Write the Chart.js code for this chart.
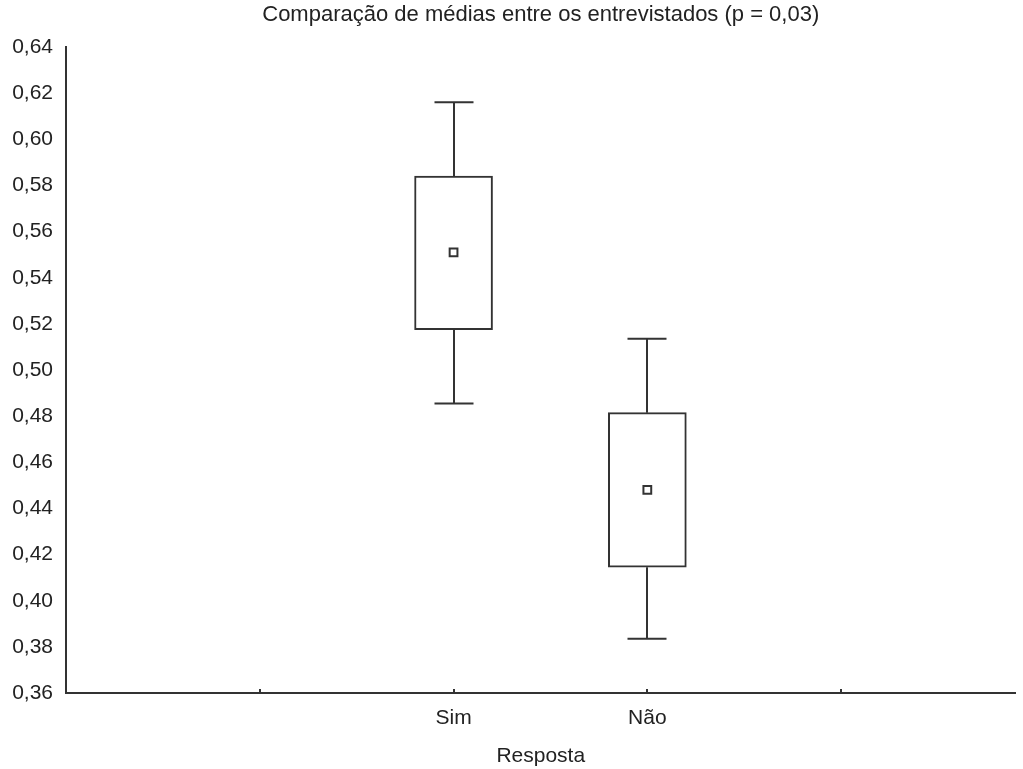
<!DOCTYPE html>
<html>
<head>
<meta charset="utf-8">
<script src="https://cdn.jsdelivr.net/npm/chart.js@4"></script>
<style>
  body { margin: 0; background: #fff; }
  #wrap { width: 1023px; height: 769px; }
</style>
</head>
<body>
<div id="wrap"><canvas id="c"></canvas></div>
<script>
const categories = ["Sim", "Não"];
const catPos = [2, 3];
const means = [0.551, 0.448];
const boxLow = [0.5175, 0.4145];
const boxHigh = [0.584, 0.4815];
const whiskerLow = [0.4855, 0.3835];
const whiskerHigh = [0.616, 0.5135];
const xTicks = [1, 2, 3, 4];
const yTicks = [0.36, 0.38, 0.40, 0.42, 0.44, 0.46, 0.48, 0.50, 0.52, 0.54, 0.56, 0.58, 0.60, 0.62, 0.64];

const ink = "#333";
const font = "'Liberation Sans', Arial, sans-serif";

// whiskers + inner x ticks
const extras = {
  id: "extras",
  afterDatasetsDraw(chart) {
    const { ctx, scales: { x, y } } = chart;
    ctx.save();
    ctx.strokeStyle = ink;
    ctx.lineWidth = 2;
    categories.forEach((c, i) => {
      const px = Math.round(x.getPixelForValue(catPos[i]));
      const cap = 19.5;
      [[boxHigh[i], whiskerHigh[i]], [boxLow[i], whiskerLow[i]]].forEach(([a, b]) => {
        const ya = y.getPixelForValue(a), yb = y.getPixelForValue(b);
        ctx.beginPath();
        ctx.moveTo(px, ya); ctx.lineTo(px, yb);
        ctx.moveTo(px - cap, yb); ctx.lineTo(px + cap, yb);
        ctx.stroke();
      });
    });
    const bottom = chart.chartArea.bottom;
    xTicks.forEach((t) => {
      const px = Math.round(x.getPixelForValue(t));
      ctx.beginPath();
      ctx.moveTo(px, bottom - 4); ctx.lineTo(px, bottom);
      ctx.stroke();
    });
    ctx.restore();
  },
};

new Chart(document.getElementById("c"), {
  data: {
    datasets: [
      {
        type: "scatter", order: 0,
        data: categories.map((c, i) => ({ x: catPos[i], y: means[i] })),
        pointStyle: "rect", radius: 5.5, borderWidth: 2,
        borderColor: ink, backgroundColor: "#fff",
      },
      {
        type: "bar", order: 1,
        data: categories.map((c, i) => ({ x: catPos[i], y: [boxLow[i], boxHigh[i]] })),
        backgroundColor: "#fff", borderColor: ink, borderWidth: 2,
        borderSkipped: false, barThickness: 78,
      },
    ],
  },
  options: {
    responsive: true, maintainAspectRatio: false, animation: false,
    layout: { padding: 0 },
    scales: {
      x: {
        type: "linear", min: 0, max: 4.9, offset: false,
        afterBuildTicks: (s) => { s.ticks = xTicks.map((v) => ({ value: v })); },
        afterFit: (s) => { s.height = 76; },
        grid: { display: false, drawTicks: false, tickLength: 0 },
        border: { display: true, color: ink, width: 2 },
        ticks: {
          color: "#222", font: { family: font, size: 21 }, padding: 13,
          callback: (v) => { const i = catPos.indexOf(v); return i >= 0 ? categories[i] : ""; },
        },
        title: { display: true, text: "Resposta", color: "#222", font: { family: font, size: 21 }, padding: { top: 6, bottom: 0 } },
      },
      y: {
        min: 0.36, max: 0.64,
        afterBuildTicks: (s) => { s.ticks = yTicks.map((v) => ({ value: v })); },
        afterFit: (s) => { s.width = 66; },
        grid: { display: false, drawTicks: false, tickLength: 0 },
        border: { display: true, color: ink, width: 2 },
        ticks: {
          color: "#222", font: { family: font, size: 21 }, padding: 13,
          callback: (v) => v.toFixed(2).replace(".", ","),
        },
      },
    },
    plugins: {
      legend: { display: false },
      tooltip: { enabled: false },
      title: {
        display: true, fullSize: false,
        text: "Comparação de médias entre os entrevistados (p = 0,03)",
        color: "#222", font: { family: font, size: 22, weight: "normal" },
        padding: { top: 2, bottom: 18.6 },
      },
    },
  },
  plugins: [extras],
});
</script>
</body>
</html>
